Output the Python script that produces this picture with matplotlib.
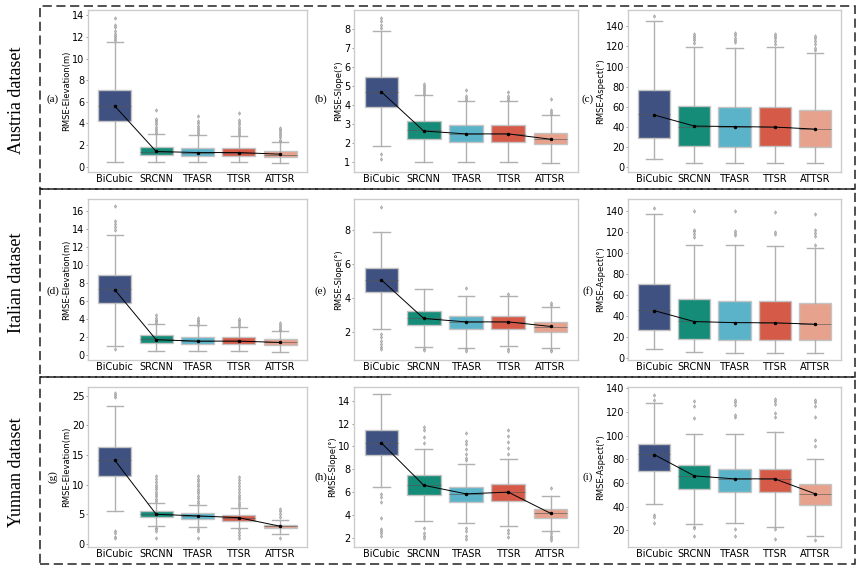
import matplotlib
matplotlib.use("Agg")
import matplotlib.pyplot as plt
from matplotlib.patches import Rectangle

methods = ["BiCubic", "SRCNN", "TFASR", "TTSR", "ATTSR"]
colors = ["#3e5180", "#148c78", "#5bb3c9", "#d55a48", "#e6a28c"]

# Each panel: (whislo, q1, med, q3, whishi, mean, fliers) per method
# (a) Austria elevation
a_lo = [0.45, 0.4, 0.4, 0.4, 0.35]
a_q1 = [4.2, 1.05, 1.0, 0.95, 0.9]
a_med = [5.6, 1.35, 1.3, 1.25, 1.1]
a_q3 = [7.1, 1.85, 1.75, 1.75, 1.45]
a_hi = [11.5, 3.05, 2.9, 2.85, 2.3]
a_mean = [5.6, 1.4, 1.3, 1.3, 1.15]
a_fl = [[11.7, 11.9, 12.1, 12.3, 12.6, 12.9, 13.1, 13.8],
        [3.1, 3.3, 3.5, 3.7, 3.9, 4.1, 4.3, 4.4, 5.2],
        [3.0, 3.2, 3.4, 3.6, 3.8, 4.0, 4.2, 4.7],
        [2.95, 3.1, 3.3, 3.5, 3.7, 3.9, 4.1, 4.3, 5.0],
        [2.35, 2.5, 2.7, 2.9, 3.1, 3.3, 3.5, 3.6]]

# (b) Austria slope
b_lo = [1.84, 1.05, 1.0, 1.0, 0.95]
b_q1 = [3.89, 2.25, 2.1, 2.1, 1.95]
b_med = [4.7, 2.7, 2.5, 2.5, 2.25]
b_q3 = [5.47, 3.16, 2.95, 2.95, 2.56]
b_hi = [7.88, 4.55, 4.23, 4.23, 3.47]
b_mean = [4.7, 2.65, 2.5, 2.5, 2.22]
b_fl = [[8.05, 8.2, 8.4, 8.6, 1.45, 1.2],
        [4.6, 4.7, 4.8, 4.9, 5.0, 5.1],
        [4.3, 4.4, 4.5, 4.8],
        [4.3, 4.4, 4.5, 4.7],
        [3.55, 3.65, 3.75, 4.35]]

# (c) Austria aspect
c_lo = [8.0, 4.0, 4.0, 4.0, 4.0]
c_q1 = [29.5, 21.6, 20.6, 21.0, 20.0]
c_med = [52.8, 40.5, 40.0, 40.0, 38.0]
c_q3 = [76.3, 61.0, 59.7, 59.7, 57.4]
c_hi = [145.0, 119.0, 118.0, 119.0, 113.5]
c_mean = [52.0, 41.0, 40.5, 40.0, 38.0]
c_fl = [[150.0],
        [123, 126, 128, 130, 132],
        [124, 126, 128, 131, 133],
        [122, 125, 128, 130, 132],
        [116, 118, 122, 125, 128, 130]]

# (d) Italian elevation
d_lo = [0.93, 0.37, 0.35, 0.35, 0.3]
d_q1 = [5.7, 1.33, 1.15, 1.15, 1.04]
d_med = [7.26, 1.75, 1.5, 1.5, 1.35]
d_q3 = [8.85, 2.15, 1.96, 1.93, 1.7]
d_hi = [13.26, 3.4, 3.26, 3.1, 2.67]
d_mean = [7.2, 1.65, 1.5, 1.5, 1.35]
d_fl = [[13.9, 14.2, 14.5, 14.8, 16.5, 0.6],
        [3.5, 3.7, 3.9, 4.1, 4.4],
        [3.3, 3.5, 3.7, 3.9, 4.1],
        [3.2, 3.4, 3.6, 3.8, 4.0],
        [2.7, 2.9, 3.1, 3.3, 3.5]]

# (e) Italian slope
e_lo = [2.2, 1.09, 1.07, 1.15, 1.03]
e_q1 = [4.34, 2.4, 2.2, 2.2, 2.0]
e_med = [5.07, 2.8, 2.6, 2.6, 2.3]
e_q3 = [5.78, 3.23, 2.95, 2.95, 2.61]
e_hi = [7.9, 4.51, 4.14, 4.14, 3.5]
e_mean = [5.07, 2.8, 2.6, 2.6, 2.33]
e_fl = [[9.4, 1.9, 1.7, 1.5, 1.3, 1.1, 1.0],
        [1.0, 0.95],
        [4.6, 1.0, 0.9],
        [4.25, 1.0, 0.9],
        [3.6, 3.7, 0.95, 0.9]]

# (f) Italian aspect
f_lo = [8.0, 5.4, 4.5, 4.5, 4.5]
f_q1 = [26.6, 18.3, 17.3, 17.3, 16.7]
f_med = [45.8, 35.3, 34.0, 33.5, 32.4]
f_q3 = [70.8, 55.8, 53.8, 53.8, 52.2]
f_hi = [136.8, 107.7, 107.7, 107.0, 105.0]
f_mean = [45.0, 34.5, 33.5, 33.3, 32.0]
f_fl = [[143.0],
        [115, 118, 121, 122, 140],
        [117, 119, 121, 140],
        [118, 120, 139],
        [108, 116, 119, 122, 137]]

# (g) Yunnan elevation
g_lo = [5.6, 3.0, 2.8, 2.65, 1.7]
g_q1 = [11.45, 4.57, 4.23, 3.9, 2.65]
g_med = [14.2, 5.0, 4.7, 4.4, 2.95]
g_q3 = [16.3, 5.53, 5.2, 4.8, 3.2]
g_hi = [23.3, 6.94, 6.6, 6.0, 4.0]
g_mean = [14.1, 4.97, 4.7, 4.4, 2.95]
g_fl = [[24.8, 25.2, 25.5, 2.2, 1.8, 1.2, 0.9],
        [7.2, 7.6, 8.0, 8.4, 8.8, 9.2, 9.6, 10.0, 10.5, 11.0, 11.5, 2.7, 2.4, 2.1, 1.0],
        [6.9, 7.3, 7.7, 8.1, 8.5, 8.9, 9.3, 9.7, 10.1, 10.6, 11.0, 11.5, 2.5, 2.2, 1.0],
        [6.3, 6.7, 7.1, 7.5, 7.9, 8.3, 8.8, 9.3, 9.8, 10.3, 10.8, 11.3, 2.4, 2.0, 1.5, 0.9],
        [4.5, 5.0, 5.5, 5.9, 1.0]]

# (h) Yunnan slope
h_lo = [6.45, 3.49, 3.34, 3.0, 2.6]
h_q1 = [9.25, 5.76, 5.15, 5.23, 3.78]
h_med = [10.27, 6.66, 5.87, 6.0, 4.18]
h_q3 = [11.44, 7.5, 6.49, 6.72, 4.53]
h_hi = [14.58, 9.78, 8.47, 8.9, 5.7]
h_mean = [10.3, 6.6, 5.85, 6.0, 4.15]
h_fl = [[5.8, 5.6, 5.1, 3.7, 2.8, 2.6, 2.4, 2.2],
        [10.3, 10.8, 11.4, 11.7, 2.9, 2.4, 2.2, 2.0],
        [8.8, 9.0, 9.3, 9.8, 10.2, 10.5, 11.2, 2.9, 2.6, 2.2, 1.9],
        [9.3, 9.9, 10.4, 10.9, 11.4, 2.7, 2.4, 2.1],
        [6.4, 2.4, 2.2, 2.0, 1.8]]

# (i) Yunnan aspect
i_lo = [42.2, 25.7, 26.0, 23.1, 15.7]
i_q1 = [70.2, 54.8, 52.5, 52.5, 41.4]
i_med = [84.1, 66.2, 63.5, 63.5, 50.8]
i_q3 = [93.3, 75.6, 72.2, 72.2, 59.0]
i_hi = [127.8, 101.0, 101.0, 103.0, 79.9]
i_mean = [84.0, 66.0, 63.5, 63.5, 51.0]
i_fl = [[130, 134, 33, 31, 26],
        [115, 125, 129, 23, 22, 15],
        [116, 117, 126, 128, 130, 21, 15],
        [116, 119, 127, 129, 131, 21, 13],
        [91, 96, 116, 125, 128, 130, 12]]

panels = [
    ("(a)", "RMSE-Elevation(m)", (a_lo, a_q1, a_med, a_q3, a_hi, a_mean, a_fl), (-0.5, 14.5), [0, 2, 4, 6, 8, 10, 12, 14]),
    ("(b)", "RMSE-Slope(°)", (b_lo, b_q1, b_med, b_q3, b_hi, b_mean, b_fl), (0.5, 9.0), [1, 2, 3, 4, 5, 6, 7, 8]),
    ("(c)", "RMSE-Aspect(°)", (c_lo, c_q1, c_med, c_q3, c_hi, c_mean, c_fl), (-4.5, 156), [0, 20, 40, 60, 80, 100, 120, 140]),
    ("(d)", "RMSE-Elevation(m)", (d_lo, d_q1, d_med, d_q3, d_hi, d_mean, d_fl), (-0.6, 17.3), [0, 2, 4, 6, 8, 10, 12, 14, 16]),
    ("(e)", "RMSE-Slope(°)", (e_lo, e_q1, e_med, e_q3, e_hi, e_mean, e_fl), (0.35, 9.85), [2, 4, 6, 8]),
    ("(f)", "RMSE-Aspect(°)", (f_lo, f_q1, f_med, f_q3, f_hi, f_mean, f_fl), (-2.2, 151.6), [0, 20, 40, 60, 80, 100, 120, 140]),
    ("(g)", "RMSE-Elevation(m)", (g_lo, g_q1, g_med, g_q3, g_hi, g_mean, g_fl), (-0.56, 26.5), [0, 5, 10, 15, 20, 25]),
    ("(h)", "RMSE-Slope(°)", (h_lo, h_q1, h_med, h_q3, h_hi, h_mean, h_fl), (1.2, 15.2), [2, 4, 6, 8, 10, 12, 14]),
    ("(i)", "RMSE-Aspect(°)", (i_lo, i_q1, i_med, i_q3, i_hi, i_mean, i_fl), (6, 141), [20, 40, 60, 80, 100, 120, 140]),
]

row_labels = ["Austria dataset", "Italian dataset", "Yunnan dataset"]

W, H = 866, 575
fig = plt.figure(figsize=(W / 100, H / 100), dpi=100)

cols_px = [(88, 307), (354, 578), (628, 841)]
rows_px = [(10, 172), (199, 360), (387, 547)]
label_x_px = [53, 321, 588]
label_y_px = [99, 291, 477]

for idx, (plabel, ylabel, stats, ylim, yticks) in enumerate(panels):
    r, c = divmod(idx, 3)
    x0, x1 = cols_px[c]
    y0, y1 = rows_px[r]
    ax = fig.add_axes([x0 / W, 1 - y1 / H, (x1 - x0) / W, (y1 - y0) / H])
    lo, q1, med, q3, hi, mean, fl = stats
    bxpstats = []
    for k in range(len(methods)):
        bxpstats.append(dict(whislo=lo[k], q1=q1[k], med=med[k], q3=q3[k],
                             whishi=hi[k], mean=mean[k], fliers=fl[k], label=methods[k]))
    pos = list(range(len(methods)))
    bp = ax.bxp(bxpstats, positions=pos, widths=0.8, patch_artist=True,
                showmeans=False, showfliers=True,
                boxprops=dict(edgecolor="#c4c4c4", linewidth=1.0),
                whiskerprops=dict(color="#b0b0b0", linewidth=1.0),
                capprops=dict(color="#b0b0b0", linewidth=1.0),
                medianprops=dict(color="#555555", linewidth=0.6, alpha=0.7),
                flierprops=dict(marker="d", markersize=1.8, markerfacecolor="#c8c8c8",
                                markeredgecolor="#a0a0a0", markeredgewidth=0.5,
                                linestyle="none"))
    for patch, col in zip(bp["boxes"], colors):
        patch.set_facecolor(col)
    ax.plot(pos, mean, color="black", linewidth=0.7, marker="o", markersize=1.5, zorder=5)
    ax.set_xlim(-0.65, 4.65)
    ax.set_ylim(*ylim)
    ax.set_yticks(yticks)
    ax.set_xticks(pos)
    ax.set_xticklabels(methods)
    ax.tick_params(axis="x", labelsize=7, length=0, pad=1.5)
    ax.tick_params(axis="y", labelsize=7, length=1.5, width=0.6, color="#888888", pad=1)
    ax.set_ylabel(ylabel, fontsize=6, labelpad=1)
    for s in ax.spines.values():
        s.set_color("#cccccc")
        s.set_linewidth(1.0)
    rot = 90 if plabel == "(g)" else 0
    fig.text(label_x_px[c] / W, 1 - label_y_px[r] / H, plabel, family="Liberation Serif",
             fontsize=8, ha="center", va="center", rotation=rot)

# row labels
row_centers = [100, 283, 472]
for lab, yc in zip(row_labels, row_centers):
    fig.text(17 / W, 1 - yc / H, lab, family="Liberation Serif", fontsize=13,
             rotation=90, ha="center", va="center")

# dashed row frames
bounds = [(6, 189), (189, 377), (377, 564)]
for (ya, yb) in bounds:
    rect = Rectangle((40 / W, 1 - yb / H), (855 - 40) / W, (yb - ya) / H,
                     transform=fig.transFigure, fill=False, edgecolor="#222222",
                     linewidth=1.1, linestyle=(0, (6, 3)))
    fig.add_artist(rect)

fig.savefig("out.png", dpi=100)
